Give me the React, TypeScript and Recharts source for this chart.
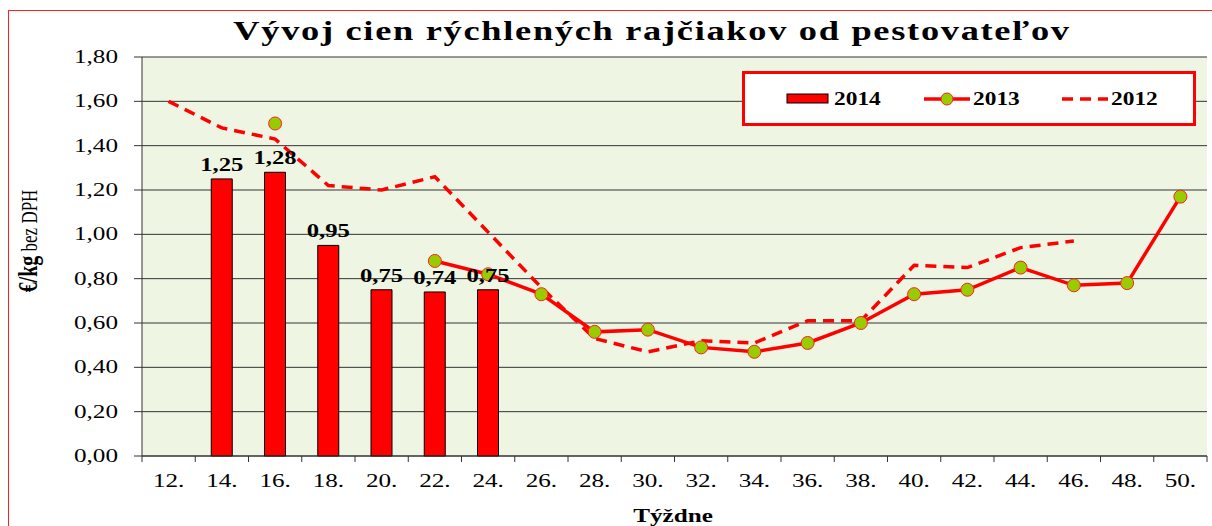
import React from "react";
import {
  ComposedChart,
  Bar,
  Line,
  XAxis,
  YAxis,
  CartesianGrid,
  LabelList,
} from "recharts";

const weeks = [
  "12.", "14.", "16.", "18.", "20.", "22.", "24.", "26.", "28.", "30.",
  "32.", "34.", "36.", "38.", "40.", "42.", "44.", "46.", "48.", "50.",
];

const prices2014 = [
  null, 1.25, 1.28, 0.95, 0.75, 0.74, 0.75, null, null, null,
  null, null, null, null, null, null, null, null, null, null,
];

const prices2013 = [
  null, null, 1.5, null, null, 0.88, 0.82, 0.73, 0.56, 0.57,
  0.49, 0.47, 0.51, 0.6, 0.73, 0.75, 0.85, 0.77, 0.78, 1.17,
];

const prices2012 = [
  1.6, 1.48, 1.43, 1.22, 1.2, 1.26, 1.01, 0.76, 0.53, 0.47,
  0.52, 0.51, 0.61, 0.61, 0.86, 0.85, 0.94, 0.97, null, null,
];

const yTicks = [0, 0.2, 0.4, 0.6, 0.8, 1.0, 1.2, 1.4, 1.6, 1.8];

const data = weeks.map((week, i) => ({
  week,
  y2014: prices2014[i],
  y2013: prices2013[i],
  y2012: prices2012[i],
}));

const W = 1212;
const H = 526;
const LEFT = 142;
const RIGHT = 5;
const HALF_BAND = (W - LEFT - RIGHT) / weeks.length / 2;
const SERIF = "'Liberation Serif', 'Times New Roman', serif";
const SX = 1.4; // the source picture is stretched sideways
const fmt = (v: number) => v.toFixed(2).replace(".", ",");

// text stretched horizontally like the original
function SText({ x, y, anchor = "middle", size = 18, bold = false, sx = SX, children }: any) {
  return (
    <text
      transform={`translate(${x},${y}) scale(${sx},1)`}
      textAnchor={anchor}
      fontFamily={SERIF}
      fontSize={size}
      fontWeight={bold ? "bold" : "normal"}
      fill="#000"
    >
      {children}
    </text>
  );
}

function WeekTick(props: any) {
  const { x, y, payload, index } = props;
  const axisY = y - 8;
  return (
    <g>
      <line x1={x - HALF_BAND} x2={x - HALF_BAND} y1={axisY} y2={axisY + 6} stroke="#333" />
      {index === weeks.length - 1 && (
        <line x1={x + HALF_BAND} x2={x + HALF_BAND} y1={axisY} y2={axisY + 6} stroke="#333" />
      )}
      <SText x={x} y={axisY + 31}>{payload.value}</SText>
    </g>
  );
}

function PriceTick(props: any) {
  const { x, y, payload } = props;
  return (
    <SText x={x} y={y + 6} anchor="end">
      {fmt(payload.value)}
    </SText>
  );
}

function BarValue(props: any) {
  const { x, y, width, value } = props;
  if (value == null) return null;
  return (
    <SText x={x + width / 2} y={y - 8} bold size={19} sx={1.3}>
      {fmt(value)}
    </SText>
  );
}

function YLabel() {
  return (
    <text
      transform="translate(37,241) rotate(-90) scale(1,1.4)"
      textAnchor="middle"
      fontFamily={SERIF}
      fill="#000"
    >
      <tspan fontWeight="bold" fontSize={20}>€/kg</tspan>
      <tspan fontSize={17}>{"  bez DPH"}</tspan>
    </text>
  );
}

export default function App() {
  return (
    <div style={{ position: "fixed", left: 0, top: 0, width: W, height: H, overflow: "hidden", background: "#fff" }}>
      <div
        style={{
          position: "absolute",
          left: 8,
          top: 10,
          width: 1300,
          height: 600,
          borderTop: "1px solid #ff2020",
          borderLeft: "1px solid #ff2020",
        }}
      />
      <div style={{ position: "absolute", left: 0, top: 0 }}>
        <ComposedChart
          width={W}
          height={H}
          data={data}
          margin={{ top: 57, right: RIGHT, bottom: 40, left: 0 }}
          barCategoryGap={0}
        >
          <CartesianGrid vertical={false} stroke="#333" fill="#eef6e3" />
          <XAxis
            dataKey="week"
            height={30}
            stroke="#333"
            tickLine={false}
            tickSize={6}
            tickMargin={2}
            interval={0}
            tick={<WeekTick />}
          />
          <YAxis
            width={LEFT}
            domain={[0, 1.8]}
            ticks={yTicks}
            stroke="#333"
            tickSize={8}
            tickMargin={16}
            tick={<PriceTick />}
            label={<YLabel />}
          />
          <Bar
            dataKey="y2014"
            name="2014"
            fill="#ff0000"
            stroke="#000"
            strokeWidth={1}
            barSize={21}
            isAnimationActive={false}
          >
            <LabelList dataKey="y2014" content={<BarValue />} />
          </Bar>
          <Line
            dataKey="y2012"
            name="2012"
            stroke="#ff0000"
            strokeWidth={3.5}
            strokeDasharray="11 7"
            dot={false}
            activeDot={false}
            isAnimationActive={false}
          />
          <Line
            dataKey="y2013"
            name="2013"
            stroke="#ff0000"
            strokeWidth={3.5}
            dot={{ r: 6.5, fill: "#99cc00", stroke: "#ff2020", strokeWidth: 1 }}
            activeDot={false}
            isAnimationActive={false}
          />
        </ComposedChart>
      </div>
      <svg width={W} height={H} style={{ position: "absolute", left: 0, top: 0, pointerEvents: "none" }}>
        <SText x={652} y={40} bold size={28} sx={1.3}>
          <tspan letterSpacing={1.3}>Vývoj cien rýchlených rajčiakov od pestovateľov</tspan>
        </SText>
        <SText x={673} y={522} bold size={18}>Týždne</SText>
        <rect x={743.5} y={72.5} width={451} height={52} fill="#fff" stroke="#ff0000" strokeWidth={3} />
        <rect x={787} y={94} width={41} height={9} fill="#ff0000" stroke="#000" strokeWidth={1} />
        <SText x={834} y={105} anchor="start" bold size={18} sx={1.3}>2014</SText>
        <line x1={924} x2={970} y1={99} y2={99} stroke="#ff0000" strokeWidth={3.5} />
        <circle cx={947} cy={99} r={6} fill="#99cc00" stroke="#ff2020" strokeWidth={1} />
        <SText x={973} y={105} anchor="start" bold size={18} sx={1.3}>2013</SText>
        <line x1={1062} x2={1108} y1={99} y2={99} stroke="#ff0000" strokeWidth={3.5} strokeDasharray="11 7" />
        <SText x={1111} y={105} anchor="start" bold size={18} sx={1.3}>2012</SText>
      </svg>
    </div>
  );
}
